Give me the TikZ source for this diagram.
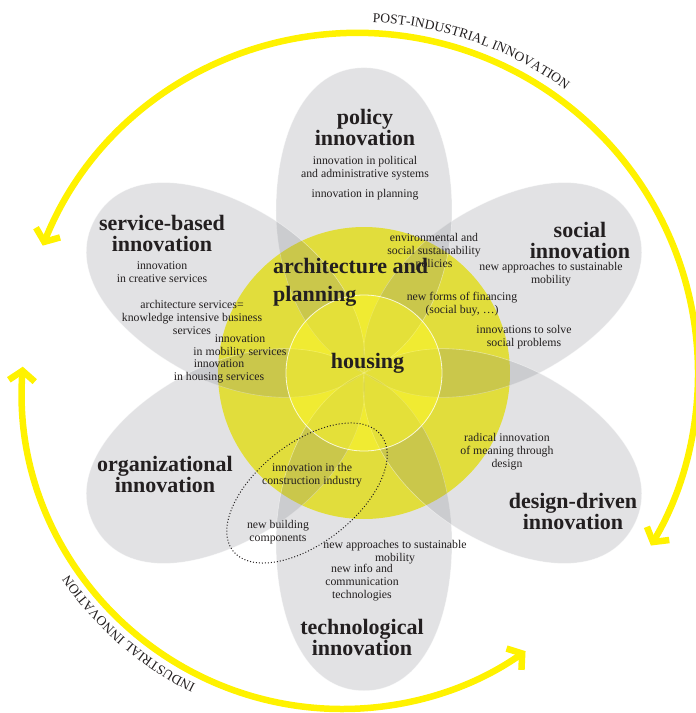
\documentclass[tikz,border=0pt]{standalone}
\usepackage{fontspec}
\setmainfont{Liberation Serif}
\usetikzlibrary{arrows.meta,decorations.text}

\definecolor{petalgray}{RGB}{120,122,130}
\definecolor{floweryellow}{RGB}{255,249,41}
\definecolor{arcyellow}{RGB}{255,242,0}
\definecolor{ink}{RGB}{35,31,32}

% one leaf of the flower, tip at the origin, pointing along +x
\newcommand{\petalpath}{(0,0) .. controls (25,60) and (100,88) .. (165,88)
  .. controls (240,88) and (310,60) .. (310,0)
  .. controls (310,-60) and (240,-88) .. (165,-88)
  .. controls (100,-88) and (25,-60) .. (0,0) -- cycle}
\newcommand{\arcfont}{\fontsize{13.5}{13.5}\selectfont}

\begin{document}
\begin{tikzpicture}[x=1pt,y=1pt,
    petal/.style={fill=petalgray,fill opacity=0.215,draw=white,draw opacity=0.45,line width=0.6pt},
    headline/.style={font=\fontsize{22}{21}\selectfont\bfseries,align=center,text=ink,inner sep=0pt},
    remark/.style={font=\fontsize{11.8}{13}\selectfont,align=center,text=ink,inner sep=0pt},
    cycle arrow/.style={draw=arcyellow,line width=6.5pt,{Straight Barb[length=10pt,width=26pt]}-{Straight Barb[length=10pt,width=26pt]}},
    arc label/.style={decorate,decoration={text along path,text format delimiters={|}{|},text={|\arcfont\color{ink}|#1}}}]
  \useasboundingbox (-364,-340) rectangle (332,373);

  % outer cycle arrows
  \coordinate (topc) at (-6,0);
  \coordinate (botc) at (-22,-16);
  \draw[cycle arrow] ([shift={(topc)}]158:340) arc[start angle=158,end angle=-30.5,radius=340];
  \draw[cycle arrow] ([shift={(botc)}]176:320) arc[start angle=176,end angle=305,radius=320];
  \path[arc label={POST-INDUSTRIAL INNOVATION}] ([shift={(topc)}]87.6:351) arc[start angle=87.6,end angle=40,radius=351];
  \path[arc label={INDUSTRIAL INNOVATION}] ([shift={(botc)}]243.7:330) arc[start angle=243.7,end angle=200,radius=330];

  % yellow disc, petals, inner disc
  \fill[floweryellow] (0,0) circle[radius=146];
  \foreach \a/\s in {30/1,90/0.985,150/1,210/1,270/1.025,330/1}
    \filldraw[petal,rotate=\a,xscale=\s] \petalpath;
  \filldraw[fill=floweryellow,fill opacity=0.5,draw=white,draw opacity=0.8,line width=0.8pt] (0,0) circle[radius=78];

  % policy
  \node[headline] (policy) at (1,246) {policy\\innovation};
  \node[remark] (polsys) at (1,205) {innovation in political\\and administrative systems};
  \node[remark] (polplan) at (1,178) {innovation in planning};
  % social
  \node[headline] (social) at (216,133) {social\\innovation};
  \node[remark] (socmob) at (187,99) {new approaches to sustainable\\mobility};
  \node[remark] (socpol) at (70,121) {environmental and\\social sustainability\\policies};
  \node[remark] (socfin) at (98,69) {new forms of financing\\(social buy, \ldots)};
  \node[remark] (socprob) at (160,36) {innovations to solve\\social problems};
  % service-based
  \node[headline] (service) at (-202,140) {service-based\\innovation};
  \node[remark] (sercre) at (-202,101) {innovation\\in creative services};
  \node[remark] (serarch) at (-172,56) {architecture services=\\knowledge intensive business\\services};
  \node[remark] (sermob) at (-124,27) {innovation\\in mobility services};
  \node[remark] (serhou) at (-145,1.5) {innovation\\in housing services};
  % organizational
  \node[headline] (organ) at (-199,-101) {organizational\\innovation};
  % design-driven
  \node[headline] (design) at (209,-138) {design-driven\\innovation};
  \node[remark] (desrad) at (143,-78.5) {radical innovation\\of meaning through\\design};
  % technological
  \node[headline] (techno) at (-2,-264) {technological\\innovation};
  \node[remark] (tecinfo) at (-2,-210) {new info and\\communication\\technologies};
  \node[remark] (tecmob) at (31,-179) {new approaches to sustainable\\mobility};
  % construction
  \node[remark] (concon) at (-52,-102.5) {innovation in the\\construction industry};
  \node[remark] (conbui) at (-86,-159) {new building\\components};
  \draw[ink,dotted,line width=1pt,rotate around={38:(-57,-120)}] (-57,-120) ellipse[x radius=94,y radius=50];

  % centre
  \node[headline,align=left,anchor=north west,font=\fontsize{22}{28}\selectfont\bfseries] (arch) at (-91,115) {architecture and\\planning};
  \node[headline] (housing) at (3.5,10) {housing};
\end{tikzpicture}
\end{document}
